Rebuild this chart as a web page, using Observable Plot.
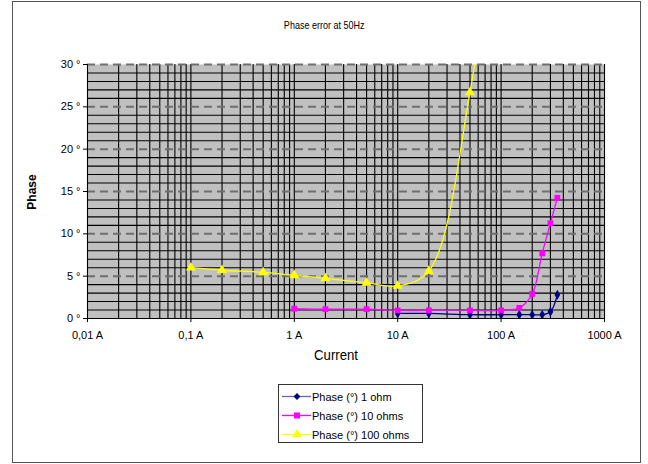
<!DOCTYPE html>
<html>
<head>
<meta charset="utf-8">
<script src="https://cdn.jsdelivr.net/npm/d3@7"></script>
<script src="https://cdn.jsdelivr.net/npm/@observablehq/plot@0.6"></script>
<style>
  html, body { margin: 0; padding: 0; background: #fff; }
  #wrap { position: relative; width: 648px; height: 464px; overflow: hidden; font-family: "Liberation Sans", Arial, sans-serif; }
  #frame { position: absolute; left: 12px; top: 1px; width: 627px; height: 460px; border: 1.5px solid #555; pointer-events: none; }
  .lbl { position: absolute; white-space: nowrap; color: #000; }
  #title { left: 0; width: 648px; top: 19px; text-align: center; font-size: 11px; }
  #title span { display: inline-block; transform: scaleX(0.82); }
  #xlabel { left: 0; width: 672px; top: 346px; text-align: center; font-size: 15px; }
  #xlabel span { display: inline-block; transform: scaleX(0.88); }
  #ylabel { left: 32px; top: 192px; font-size: 12px; font-weight: bold; transform: translate(-50%, -50%) rotate(-90deg); }
  #legend { position: absolute; left: 278px; top: 384px; width: 143px; height: 57px; border: 1px solid #333; background: #fff; }
  #legend .row { position: absolute; left: 0; height: 19px; display: flex; align-items: center; font-size: 11px; }
  #legend svg { display: block; }
</style>
</head>
<body>
<div id="wrap">
  <div id="chart"></div>
  <div class="lbl" id="title"><span>Phase error at 50Hz</span></div>
  <div class="lbl" id="xlabel"><span>Current</span></div>
  <div class="lbl" id="ylabel">Phase</div>
  <div id="legend"></div>
  <div id="frame"></div>
</div>
<script>
// Data
const seriesNames = ["Phase (°) 1 ohm", "Phase (°) 10 ohms", "Phase (°) 100 ohms"];
const seriesColors = ["#000080", "#ff00ff", "#ffff00"];
const seriesSymbols = ["diamond", "square", "triangle"];

const current1 = [10, 20, 50, 100, 150, 200, 250, 300, 350];
const phase1   = [0.6, 0.6, 0.45, 0.45, 0.45, 0.45, 0.45, 0.8, 2.8];

const current10 = [1, 2, 5, 10, 20, 50, 100, 150, 200, 250, 300, 350];
const phase10   = [1.15, 1.1, 1.1, 0.95, 0.95, 0.95, 0.95, 1.25, 2.9, 7.7, 11.25, 14.25];

const current100 = [0.1, 0.2, 0.5, 1, 2, 5, 10, 20, 50, 100];
const phase100   = [6.0, 5.7, 5.45, 5.1, 4.75, 4.2, 3.85, 5.6, 26.7, 55];

const xTicks = [0.01, 0.1, 1, 10, 100, 1000];
const xTickLabels = ["0,01 A", "0,1 A", "1 A", "10 A", "100 A", "1000 A"];
const yTicks = [0, 5, 10, 15, 20, 25, 30];
const yTickLabels = ["0 °", "5 °", "10 °", "15 °", "20 °", "25 °", "30 °"];

// Build tables
const currents = [current1, current10, current100];
const phases = [phase1, phase10, phase100];
const rows = [];
currents.forEach((cs, s) => cs.forEach((c, i) => rows.push({series: seriesNames[s], current: c, phase: phases[s][i]})));

// gridline positions
const minorX = [];
for (let e = -2; e <= 2; e++) for (let m = 1; m <= 9; m++) minorX.push(m * Math.pow(10, e));
minorX.push(1000);
const minorY = d3.range(1, 31).filter(v => v % 5 !== 0);
const majorY = [5, 10, 15, 20, 25, 30];

const seriesMarks = seriesNames.flatMap((name, s) => {
  const data = rows.filter(r => r.series === name);
  return [
    Plot.line(data, {x: "current", y: "phase", stroke: seriesColors[s], strokeWidth: 1.3, curve: "catmull-rom", clip: true}),
    Plot.dot(data, {x: "current", y: "phase", fill: seriesColors[s], stroke: "none", symbol: () => seriesSymbols[s],
      r: s === 0 ? 3 : s === 1 ? 3.3 : 3.7, clip: true})
  ];
});

const chart = Plot.plot({
  width: 648,
  height: 464,
  marginLeft: 87,
  marginRight: 44,
  marginTop: 64,
  marginBottom: 146,
  style: {background: "transparent", fontFamily: "'Liberation Sans', Arial, sans-serif", fontSize: "11px", color: "#000"},
  x: {type: "log", domain: [0.01, 1000]},
  y: {domain: [0, 30]},
  marks: [
    Plot.frame({fill: "#c0c0c0", stroke: null}),
    Plot.ruleX(minorX, {stroke: "#000", strokeWidth: 1.1}),
    Plot.ruleY(minorY, {stroke: "#000", strokeWidth: 1.1}),
    Plot.ruleY(majorY, {stroke: "#6e6e6e", strokeWidth: 2, strokeDasharray: "8,5"}),
    Plot.axisX({ticks: xTicks, tickFormat: d => xTickLabels[xTicks.indexOf(d)], tickSize: 4, tickPadding: 9, label: null, fontSize: 11}),
    Plot.axisY({ticks: yTicks, tickFormat: d => yTickLabels[yTicks.indexOf(d)], tickSize: 4, tickPadding: 3, label: null, fontSize: 11}),
    Plot.ruleY([0], {stroke: "#000", strokeWidth: 1}),
    Plot.ruleX([0.01], {stroke: "#000", strokeWidth: 1}),
    ...seriesMarks
  ]
});
document.getElementById("chart").appendChild(chart);

// Legend
const legend = d3.select("#legend");
seriesNames.forEach((name, s) => {
  const row = legend.append("div").attr("class", "row").style("top", (2 + s * 19) + "px");
  const svg = row.append("svg").attr("width", 33).attr("height", 19);
  svg.append("line").attr("x1", 3).attr("x2", 32).attr("y1", 9.5).attr("y2", 9.5)
    .attr("stroke", seriesColors[s]).attr("stroke-width", 1.3).attr("stroke-opacity", s === 0 ? 0.6 : 1);
  const sym = s === 0 ? d3.symbolDiamond2 : s === 1 ? d3.symbolSquare : d3.symbolTriangle;
  const size = s === 0 ? 30 : s === 1 ? 36 : 42;
  svg.append("path").attr("d", d3.symbol(sym, size)()).attr("transform", "translate(18,9.5)").attr("fill", seriesColors[s]);
  row.append("span").text(name);
});
</script>
</body>
</html>
